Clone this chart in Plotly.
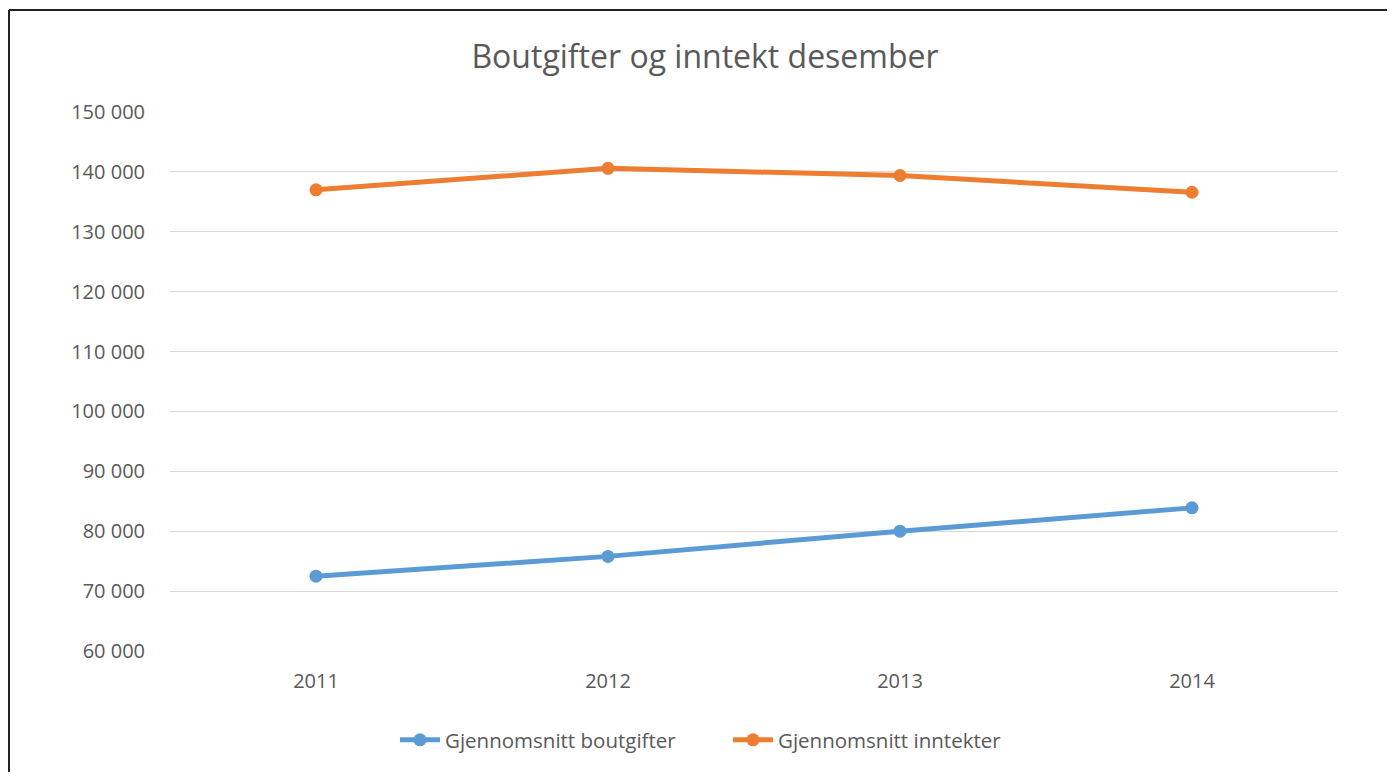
import plotly.graph_objects as go

years = ["2011", "2012", "2013", "2014"]
boutgifter = [72500, 75800, 80000, 83900]
inntekter = [137000, 140600, 139400, 136600]
series_names = ["Gjennomsnitt boutgifter", "Gjennomsnitt inntekter"]
title_text = "Boutgifter og inntekt desember"

FONT = "Open Sans, Calibri, sans-serif"
blue = "#5B9BD5"
orange = "#ED7D31"
grey = "#595959"

fig = go.Figure()
for name, vals, col in [(series_names[0], boutgifter, blue), (series_names[1], inntekter, orange)]:
    fig.add_trace(go.Scatter(
        x=years, y=vals, name=name, mode="lines+markers",
        line=dict(color=col, width=5),
        marker=dict(color=col, size=13),
    ))

# page body has an 8px margin; work in figure coordinates
W, H = 1379, 764
L, R, T, B = 162, 49, 104, 121
pw = W - L - R
ph = H - T - B

fig.update_layout(
    width=W, height=H,
    margin=dict(l=L, r=R, t=T, b=B),
    paper_bgcolor="white", plot_bgcolor="white",
    separators=". ",
    font=dict(family=FONT, color=grey, size=20),
    title=dict(text=title_text, x=697 / W, xref="container", xanchor="center",
               y=1 - 49 / H, yref="container", yanchor="middle",
               font=dict(size=32, color=grey, family=FONT)),
    xaxis=dict(type="category", range=[-0.5, 3.5], showgrid=False, zeroline=False,
               showline=False, ticks="", ticklabelstandoff=16,
               tickfont=dict(size=20, color=grey)),
    yaxis=dict(range=[60000, 150000], dtick=10000, tickformat=",d",
               showgrid=True, gridcolor="#D9D9D9", gridwidth=1, zeroline=False,
               showline=False, ticks="", ticklabelstandoff=24,
               tickfont=dict(size=20, color=grey)),
    legend=dict(orientation="h", x=(720 - L) / pw, xanchor="center",
                y=(H - B - 732) / ph, yanchor="middle",
                font=dict(size=20.5, color=grey), itemwidth=40,
                entrywidth=278, entrywidthmode="pixels",
                bgcolor="rgba(0,0,0,0)"),
    showlegend=True,
)

# outer chart border: left and top edges
bx = (1 - L) / pw
ty = (H - B - 2) / ph
by = (H - B - H - 5) / ph
fig.add_shape(type="line", xref="paper", yref="paper", x0=bx, x1=bx, y0=by, y1=ty,
              line=dict(color="#222222", width=2), layer="above")
fig.add_shape(type="line", xref="paper", yref="paper", x0=bx, x1=(W - L) / pw, y0=ty, y1=ty,
              line=dict(color="#222222", width=2), layer="above")

fig.write_html("out.html")
